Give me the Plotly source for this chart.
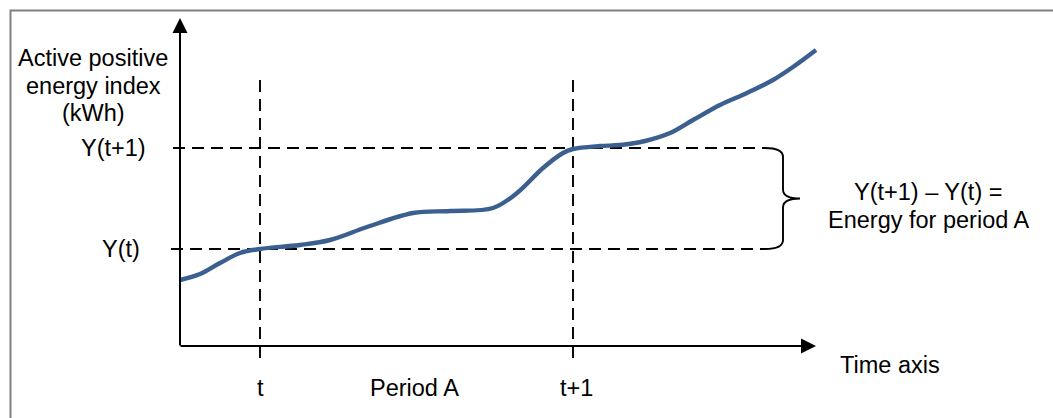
import plotly.graph_objects as go

# ---- data (time units / energy-index units, origin at the axes corner) ----
curve_time = [0, 20, 40, 60, 80, 120, 150, 187, 233, 270, 313, 337, 363, 383, 393,
              420, 440, 465, 490, 513, 540, 567, 593, 613, 636]
curve_energy = [66, 72, 83, 93, 97, 101, 106, 119, 133, 135, 138, 153, 178, 193, 197,
                200, 201, 205, 213, 226, 241, 253, 266, 279, 296]

t_pos = 80          # time "t"
t1_pos = 393        # time "t+1"
y_t = 97            # Y(t)
y_t1 = 198          # Y(t+1)
x_axis_end = 636
y_axis_end = 328

tick_labels = ["t", "Period A", "t+1"]
tick_positions = [t_pos, 234, t1_pos + 3]

y_title_lines = ["Active positive", "energy index", "(kWh)"]
brace_lines = ["Y(t+1) – Y(t) =", "Energy for period A"]

FONT = "Arial, Liberation Sans, sans-serif"
CURVE_COLOR = "#3B5F8F"
FS = 23.5

fig = go.Figure()

dash = "12px,7px"
# vertical dashed guide lines
for tx in (t_pos, t1_pos):
    fig.add_trace(go.Scatter(x=[tx, tx], y=[-12, 266], mode="lines",
                             line=dict(color="black", width=1.9, dash=dash),
                             hoverinfo="skip", showlegend=False))
# horizontal dashed guide lines
for yy, x0 in ((y_t1, -7), (y_t, -9)):
    fig.add_trace(go.Scatter(x=[x0, 586], y=[yy, yy], mode="lines",
                             line=dict(color="black", width=1.9, dash=dash),
                             hoverinfo="skip", showlegend=False))

# energy curve
fig.add_trace(go.Scatter(x=curve_time, y=curve_energy, mode="lines",
                         line=dict(color=CURVE_COLOR, width=4.4, shape="spline", smoothing=1.0),
                         hoverinfo="skip", showlegend=False))

# brace between Y(t) and Y(t+1)
bx, br, btip = 603, 9, 17
ym = (y_t + y_t1) / 2
brace = (f"M {bx-18},{y_t1} Q {bx},{y_t1} {bx},{y_t1-br} "
         f"L {bx},{ym+br} Q {bx},{ym} {bx+btip},{ym} "
         f"Q {bx},{ym} {bx},{ym-br} "
         f"L {bx},{y_t+br} Q {bx},{y_t} {bx-18},{y_t}")
shapes = [dict(type="path", path=brace, xref="x", yref="y",
               line=dict(color="black", width=1.9)),
          # gray frame (top & left visible)
          dict(type="rect", xref="paper", yref="paper",
               x0=10.5 / 1053, x1=1.2, y0=-0.2, y1=1 - 10.5 / 418,
               line=dict(color="#808080", width=2), fillcolor="rgba(0,0,0,0)")]

annotations = []
# axes with arrows
annotations.append(dict(x=x_axis_end, y=0, ax=-1, ay=0, xref="x", yref="y",
                        axref="x", ayref="y", text="", showarrow=True,
                        arrowhead=2, arrowwidth=2, arrowsize=1.5, arrowcolor="black"))
annotations.append(dict(x=0, y=y_axis_end, ax=0, ay=-1, xref="x", yref="y",
                        axref="x", ayref="y", text="", showarrow=True,
                        arrowhead=2, arrowwidth=2, arrowsize=1.5, arrowcolor="black"))

def label(text, x, y, xanchor="center"):
    annotations.append(dict(x=x, y=y, xref="x", yref="y", text=text, showarrow=False,
                            xanchor=xanchor, yanchor="middle", align="center",
                            font=dict(family=FONT, size=FS, color="black")))

for i, line in enumerate(y_title_lines):
    label(line, -87, 288 - 27.5 * i)
label("Y(t+1)", -67, y_t1)
label("Y(t)", -59, y_t)
for txt, xp in zip(tick_labels, tick_positions):
    label(txt, xp, -42)
label("Time axis", 710, -19)
for i, line in enumerate(brace_lines):
    label(line, 748, 154 - 28 * i)

fig.update_layout(
    width=1053, height=418,
    margin=dict(l=0, r=0, t=0, b=0),
    paper_bgcolor="white", plot_bgcolor="white",
    xaxis=dict(range=[-180, 873], visible=False, fixedrange=True),
    yaxis=dict(range=[-72, 346], visible=False, fixedrange=True),
    shapes=shapes, annotations=annotations,
    showlegend=False,
)

fig.write_html("out.html", config={"displayModeBar": False},
               post_script="document.body.style.margin='0';document.body.style.overflow='hidden';")
